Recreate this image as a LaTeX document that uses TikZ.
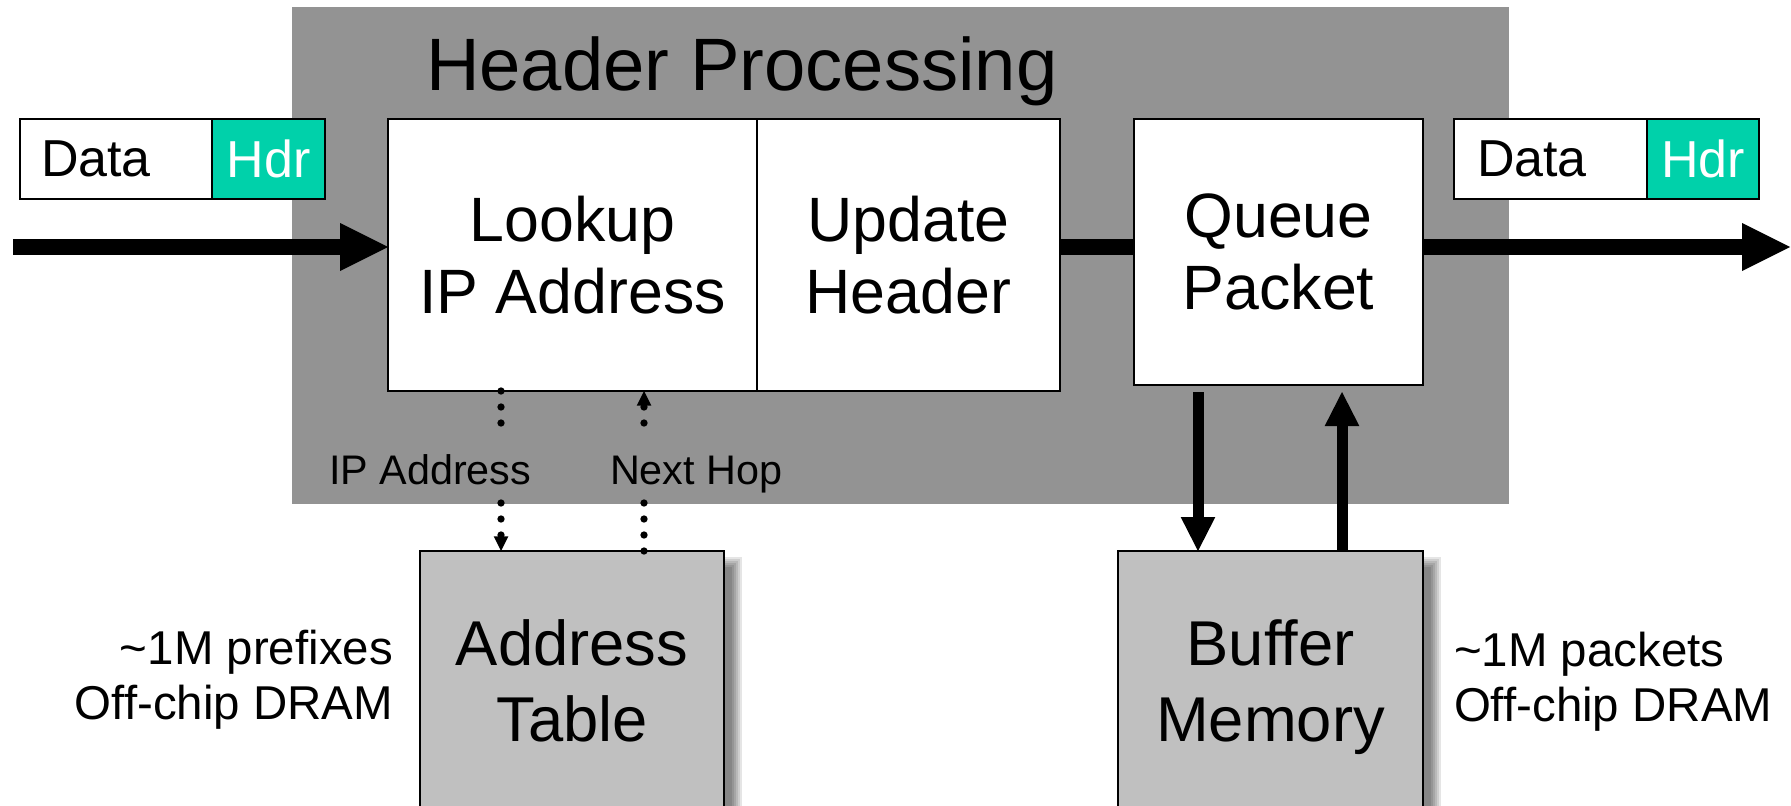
\documentclass[tikz,border=0pt]{standalone}
\usepackage{fontspec}
\setmainfont{Liberation Sans}
\usetikzlibrary{arrows.meta,calc}
\definecolor{hpgray}{RGB}{147,147,147}
\definecolor{memgray}{RGB}{192,192,192}
\definecolor{hdrgreen}{RGB}{0,209,170}
\begin{document}
\begin{tikzpicture}[x=0.75pt,y=-0.75pt,
  every node/.style={inner sep=0pt,outer sep=0pt},
  box/.style={draw=black,line width=2pt,fill=white,anchor=north west,align=center,font=\fontsize{47}{54}\selectfont},
  membox/.style={box,fill=memgray,font=\fontsize{47.5}{57.5}\selectfont},
  pkt/.style={draw=black,line width=2pt,anchor=north west,minimum height=60pt,font=\fontsize{39}{46}\selectfont},
  datab/.style={pkt,fill=white,align=left},
  hdrb/.style={pkt,fill=hdrgreen,text=white,align=center},
  flow/.style={line width=12pt,-{Triangle[length=36pt,width=36pt,line width=0pt]}},
  memflow/.style={line width=8.25pt,-{Triangle[length=25.5pt,width=26pt,line width=0pt]}},
  dots/.style={line width=5.5pt,line cap=round,dash pattern=on 0pt off 12pt},
  dotarrow/.style={dots,-{Triangle[length=11pt,width=11pt,line width=0pt]}},
  lbl/.style={font=\fontsize{31}{37}\selectfont,anchor=base west},
  note/.style={font=\fontsize{35.6}{41.5}\selectfont}
]
\useasboundingbox (0,0) rectangle (1791,806);
% header processing area
\fill[hpgray] (292,7) rectangle (1509,504);
% blurred shadows
\foreach \k in {0,...,5}{
  \fill[black,opacity=0.1] ({426+2*\k},{557+2*\k}) rectangle ({742-2*\k},{829-2*\k});
  \fill[black,opacity=0.1] ({1124+2*\k},{557+2*\k}) rectangle ({1441-2*\k},{834-2*\k});
}
\node[anchor=base west,font=\fontsize{55.7}{66}\selectfont] (title) at (426,91) {Header Processing};
% packets
\node[datab,minimum width=144pt,text width=112.5pt,inner xsep=15.75pt] (dataL) at (20,119) {Data};
\node[hdrb,minimum width=84.75pt] (hdrL) at (212,119) {Hdr};
\node[datab,minimum width=144.75pt,text width=110.25pt,inner xsep=17.25pt] (dataR) at (1454,119) {Data};
\node[hdrb,minimum width=84pt] (hdrR) at (1647,119) {Hdr};
% blocks
\node[box,minimum width=276.75pt,minimum height=204pt] (lookup) at (388,119) {Lookup\\IP Address};
\node[box,minimum width=227.25pt,minimum height=204pt] (update) at (757,119) {Update\\Header};
\node[box,minimum width=216.75pt,minimum height=199.5pt] (queue) at (1134,119) {Queue\\Packet};
\node[membox,minimum width=228pt,minimum height=195pt] (table) at (420,551) {Address\\Table};
\node[membox,minimum width=228.75pt,minimum height=204pt] (buffer) at (1118,551) {Buffer\\Memory};
% labels
\node[lbl] (iplbl) at (329,484) {IP Address};
\node[lbl] (nhlbl) at (610,484) {Next Hop};
\node[note,anchor=base east] (prefA) at (393,664) {\textasciitilde 1M prefixes};
\node[note,anchor=base east] (prefB) at (393,719) {Off-chip DRAM};
\node[note,anchor=base west] (pktA) at (1454,666) {\textasciitilde 1M packets};
\node[note,anchor=base west] (pktB) at (1454,721) {Off-chip DRAM};
% main flow
\coordinate (inL) at (13,247);
\coordinate (outR) at (1790,247);
\draw[flow] (inL) -- (lookup.west |- inL);
\draw[line width=12pt] (update.east |- inL) -- (queue.west |- inL);
\draw[flow] (queue.east |- inL) -- (outR);
% buffer memory
\draw[memflow] ([shift={(64,7)}]queue.south west) -- ([shift={(80,0)}]buffer.north west);
\draw[memflow] ([shift={(224,0)}]buffer.north west) -- ([shift={(208,7)}]queue.south west);
% address table
\coordinate (ipT) at (501,424);
\coordinate (ipB) at (501,503);
\coordinate (nhT) at (644,423);
\coordinate (nhB) at (644,502.5);
\draw[dots] ([shift={(113,0)}]lookup.south west) -- (ipT);
\draw[dotarrow] (ipB) -- ([shift={(81,0)}]table.north west);
\draw[dots] ([shift={(224,0)}]table.north west) -- (nhB);
\draw[dotarrow] (nhT) -- ([shift={(256,0)}]lookup.south west);
\end{tikzpicture}
\end{document}
